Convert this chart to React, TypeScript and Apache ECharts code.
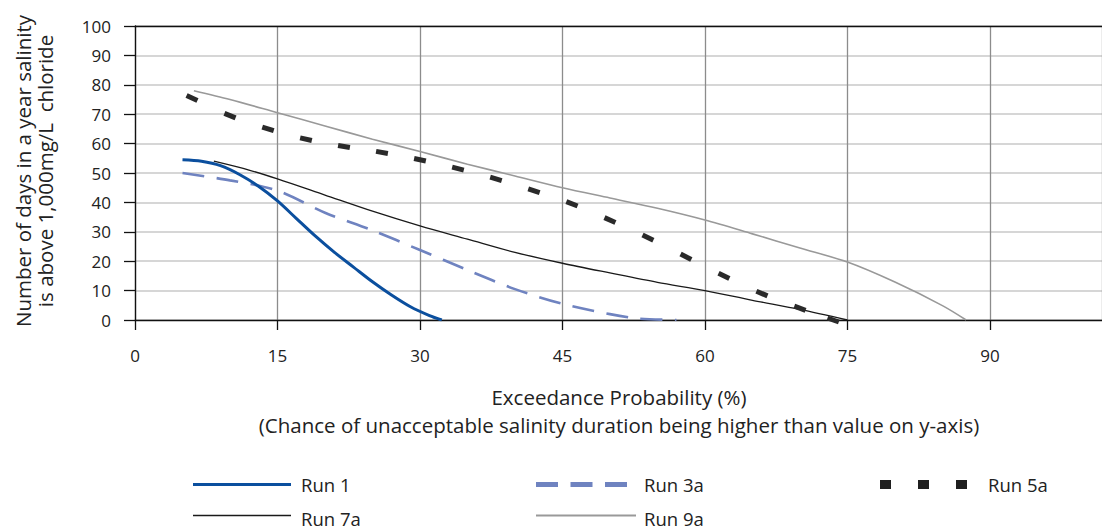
import React, { useEffect, useRef } from "react";
import * as echarts from "echarts";

const seriesNames = ["Run 1", "Run 3a", "Run 5a", "Run 7a", "Run 9a"];
const xMin = 0;
const xMax = 101.8;
const xInterval = 15;
const yMin = 0;
const yMax = 100;
const yInterval = 10;
const xTitle = ["Exceedance Probability (%)", "(Chance of unacceptable salinity duration being higher than value on y-axis)"];
const yTitle = ["Number of days in a year salinity", "is above 1,000mg/L  chloride"];

const run1: [number, number][] = [
  [5, 54.5], [7, 54], [9, 52.5], [11, 49.5], [13, 45.5], [15, 40.5], [17, 34.5], [19, 28.5],
  [21, 23], [23, 18], [25, 13], [27, 8.5], [29, 4.5], [31, 1.5], [32.3, 0],
];
const run3a: [number, number][] = [
  [5, 50], [10, 47.5], [15, 44], [20, 36.5], [25, 30.5], [30, 23.8], [35, 17], [40, 10.5],
  [45, 5.5], [50, 2], [53, 0.5], [57, 0],
];
const run5a: [number, number][] = [
  [6, 75.5], [10, 69.5], [14, 65], [18, 61.5], [22, 59], [26, 57], [30, 54.5], [34, 51.5],
  [38, 48], [42, 44], [46, 39.5], [50, 34], [54, 28], [58, 21.5], [62, 15], [66, 9], [70, 4], [73.5, 0],
];
const run7a: [number, number][] = [
  [8.3, 54], [12, 51], [15, 48], [20, 42.5], [25, 37], [30, 32], [35, 27.5], [40, 23], [45, 19.3],
  [50, 16], [55, 12.8], [60, 10], [65, 6.7], [70, 3.6], [75, 0],
];
const run9a: [number, number][] = [
  [6.2, 78], [10, 75], [15, 70.5], [20, 66], [25, 61.5], [30, 57.3], [35, 53], [40, 49], [45, 45],
  [50, 41.5], [55, 38], [60, 34], [65, 29.3], [70, 24.5], [75, 19.7], [80, 12.9], [85, 4.9], [87.5, 0],
];

const W = 1102;
const H = 529;
const GRID = { left: 135, top: 26, width: 967, height: 294 };
const FONT = '"Open Sans", "Noto Sans", sans-serif';
const TEXT = "#222";

export default function App() {
  const ref = useRef<HTMLDivElement>(null);
  useEffect(() => {
    if (!ref.current) return;
    const chart = echarts.init(ref.current, undefined, { renderer: "svg" });
    const pxX = GRID.width / (xMax - xMin);
    const pxY = GRID.height / (yMax - yMin);
    const n = run5a.length;
    const run5aData = run5a.map((p, i) => {
      const a = run5a[Math.max(i - 1, 0)];
      const b = run5a[Math.min(i + 1, n - 1)];
      const deg = (Math.atan2((b[1] - a[1]) * pxY, (b[0] - a[0]) * pxX) * 180) / Math.PI;
      return { value: p, symbolRotate: deg };
    });
    const legendRow1 = 484;
    const legendRow2 = 518;
    const legendLine1 = 484.5;
    const legendLine2 = 515.5;
    const legendFont = 18.5;
    const titleFont = 20.5;
    chart.setOption({
      animation: false,
      grid: {
        left: GRID.left,
        top: GRID.top,
        width: GRID.width,
        height: GRID.height,
        containLabel: false,
        outerBoundsMode: "none",
      },
      xAxis: [
        {
          type: "value",
          min: xMin,
          max: xMax,
          interval: xInterval,
          axisLine: { show: true, lineStyle: { color: "#111", width: 1.3 } },
          axisTick: { show: true, length: 10, lineStyle: { color: "#111", width: 1.3 } },
          axisLabel: { margin: 27, fontSize: 17, fontFamily: FONT, color: TEXT, showMaxLabel: false },
          splitLine: { show: true, lineStyle: { color: "#8c8c8c", width: 1.3 } },
        },
        {
          type: "value",
          position: "top",
          min: xMin,
          max: xMax,
          interval: xInterval,
          axisLine: { show: true, onZero: false, lineStyle: { color: "#111", width: 1.3 } },
          axisTick: { show: false },
          axisLabel: { show: false },
          splitLine: { show: false },
        },
      ],
      yAxis: {
        type: "value",
        min: yMin,
        max: yMax,
        interval: yInterval,
        axisLine: { show: true, lineStyle: { color: "#111", width: 1.3 } },
        axisTick: { show: true, length: 11, lineStyle: { color: "#111", width: 1.3 } },
        axisLabel: { margin: 24, fontSize: 17, fontFamily: FONT, color: TEXT },
        splitLine: { show: true, lineStyle: { color: "#c8c8c8", width: 1.6 } },
      },
      series: [
        {
          name: seriesNames[0],
          type: "line",
          data: run1,
          smooth: 0.3,
          symbol: "none",
          lineStyle: { color: "#0b4f9e", width: 3 },
          z: 5,
        },
        {
          name: seriesNames[1],
          type: "line",
          data: run3a,
          smooth: 0.3,
          symbol: "none",
          lineStyle: { color: "#6f83c0", width: 2.6, type: [22, 12.5] },
          z: 4,
        },
        {
          name: seriesNames[2],
          type: "line",
          data: run5aData,
          symbol: "rect",
          symbolSize: [12, 5],
          showSymbol: true,
          itemStyle: { color: "#2a2a2a" },
          lineStyle: { width: 0, opacity: 0 },
          z: 4,
        },
        {
          name: seriesNames[3],
          type: "line",
          data: run7a,
          smooth: 0.3,
          symbol: "none",
          lineStyle: { color: "#1a1a1a", width: 1.3 },
          z: 3,
        },
        {
          name: seriesNames[4],
          type: "line",
          data: run9a,
          smooth: 0.3,
          symbol: "none",
          lineStyle: { color: "#999999", width: 1.6 },
          z: 3,
        },
      ],
      graphic: [
        {
          type: "text",
          x: 23,
          y: 171,
          rotation: Math.PI / 2,
          style: { text: yTitle[0], fontSize: titleFont, fontFamily: FONT, fill: TEXT, align: "center", verticalAlign: "middle" },
        },
        {
          type: "text",
          x: 45,
          y: 171,
          rotation: Math.PI / 2,
          style: { text: yTitle[1], fontSize: titleFont, fontFamily: FONT, fill: TEXT, align: "center", verticalAlign: "middle" },
        },
        {
          type: "text",
          x: 619,
          y: 397,
          style: { text: xTitle[0], fontSize: titleFont, fontFamily: FONT, fill: TEXT, align: "center", verticalAlign: "middle" },
        },
        {
          type: "text",
          x: 619,
          y: 425,
          style: { text: xTitle[1], fontSize: titleFont, fontFamily: FONT, fill: TEXT, align: "center", verticalAlign: "middle" },
        },
        // legend
        { type: "line", shape: { x1: 193, y1: legendLine1, x2: 291, y2: legendLine1 }, style: { stroke: "#0b4f9e", lineWidth: 3 } },
        { type: "text", x: 301, y: legendRow1, style: { text: seriesNames[0], fontSize: legendFont, fontFamily: FONT, fill: TEXT, align: "left", verticalAlign: "middle" } },
        { type: "line", shape: { x1: 536, y1: legendLine1, x2: 630, y2: legendLine1 }, style: { stroke: "#6f83c0", lineWidth: 5, lineDash: [22, 12.5] } },
        { type: "text", x: 644, y: legendRow1, style: { text: seriesNames[1], fontSize: legendFont, fontFamily: FONT, fill: TEXT, align: "left", verticalAlign: "middle" } },
        { type: "line", shape: { x1: 880, y1: legendLine1, x2: 970, y2: legendLine1 }, style: { stroke: "#1f1f1f", lineWidth: 9, lineDash: [11, 27] } },
        { type: "text", x: 988, y: legendRow1, style: { text: seriesNames[2], fontSize: legendFont, fontFamily: FONT, fill: TEXT, align: "left", verticalAlign: "middle" } },
        { type: "line", shape: { x1: 193, y1: legendLine2, x2: 291, y2: legendLine2 }, style: { stroke: "#1a1a1a", lineWidth: 1.3 } },
        { type: "text", x: 301, y: legendRow2, style: { text: seriesNames[3], fontSize: legendFont, fontFamily: FONT, fill: TEXT, align: "left", verticalAlign: "middle" } },
        { type: "line", shape: { x1: 536, y1: legendLine2, x2: 636, y2: legendLine2 }, style: { stroke: "#999999", lineWidth: 2 } },
        { type: "text", x: 644, y: legendRow2, style: { text: seriesNames[4], fontSize: legendFont, fontFamily: FONT, fill: TEXT, align: "left", verticalAlign: "middle" } },
      ],
    });
    return () => chart.dispose();
  }, []);
  return (
    <div
      ref={ref}
      style={{ position: "fixed", left: 0, top: 0, width: W, height: H, overflow: "hidden", background: "#fff" }}
    />
  );
}
